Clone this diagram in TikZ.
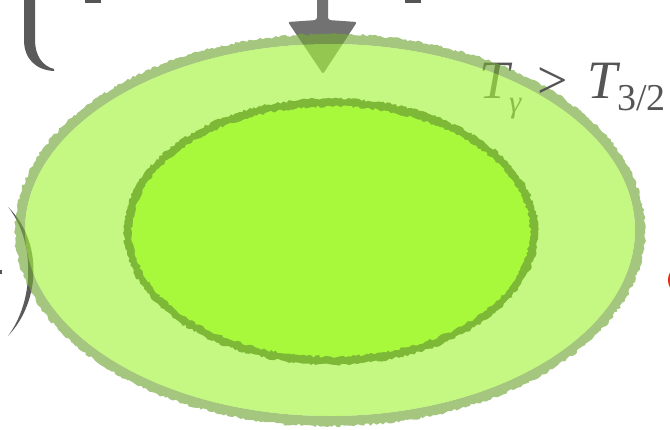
\documentclass[tikz,border=0pt]{standalone}
\usepackage{fontspec}
\setmainfont{Liberation Serif}
\usetikzlibrary{decorations.pathmorphing}
\definecolor{ofill}{RGB}{166,245,63}
\definecolor{ostroke}{RGB}{117,168,57}
\definecolor{ifill}{RGB}{168,248,60}
\definecolor{istroke}{RGB}{125,185,55}
\definecolor{arrowgray}{RGB}{114,114,114}
\definecolor{textgray}{RGB}{85,85,85}
\definecolor{brgray}{RGB}{90,90,90}
\definecolor{redmark}{RGB}{230,45,25}
\begin{document}
\begin{tikzpicture}[x=1pt,y=-1pt,
  txt/.style={inner sep=0pt, anchor=base west, text=textgray},
  rough/.style={decoration={random steps, segment length=2.5pt, amplitude=1.3pt}},
  overlay ring/.style={fill=ostroke, fill opacity=0.65, even odd rule},
  overlay fill/.style={fill=ofill, fill opacity=0.65}]
\pgfmathsetseed{7}
\useasboundingbox (0,0) rectangle (670,429);
% pieces that lie under the translucent outer ellipse
\fill[brgray] (24,-5) -- (24,40) .. controls (24,58) and (35,70) .. (54,71)
  -- (54,69) .. controls (42,66) and (35,55) .. (35,40) -- (35,-5) -- cycle;
\fill[brgray] (8,207) .. controls (42,240) and (42,300) .. (8,336)
  .. controls (35,300) and (35,240) .. (8,207) -- cycle;
\coordinate (arrowtop) at (322.5,-5);
\coordinate (arrowtip) at (323,74);
\fill[arrowgray, rounded corners=2pt] (317,-5) -- (317,20) -- (288,22)
  -- (arrowtip) -- (357,22) -- (328,20) -- (328,-5) -- cycle;
\node[txt] (tgam) at (479,98) {\fontsize{54}{54}\selectfont\itshape T};
\node[txt] (gam) at (509,112) {\fontsize{31}{31}\selectfont\itshape γ};
% fragments of cut-off text
\fill[textgray] (85,-3) rectangle (101,2.5);
\fill[textgray] (405,-3) rectangle (421,2.5);
\fill[textgray] (-2,270) rectangle (2,274);
\fill[redmark] (674,280) ellipse [x radius=6, y radius=10];
% outer ellipse
\coordinate (c) at (330,230);
\path[overlay ring, rough] decorate {(c) ellipse [x radius=315, y radius=196]}
  (c) ellipse [x radius=305, y radius=186];
\path[overlay fill] (c) ellipse [x radius=305, y radius=186];
% inner ellipse
\coordinate (ci) at (331,231.5);
\fill[istroke, rough, decorate] (ci) ellipse [x radius=207, y radius=133];
\fill[ifill, rough, decorate] (ci) ellipse [x radius=199, y radius=125];
% label on top
\node[txt] (gt) at (537,98) {\fontsize{54}{54}\selectfont >};
\node[txt] (t2) at (587,98) {\fontsize{54}{54}\selectfont\itshape T};
\node[txt] (sub) at (617,110) {\fontsize{38}{38}\selectfont 3/2};
\end{tikzpicture}
\end{document}
